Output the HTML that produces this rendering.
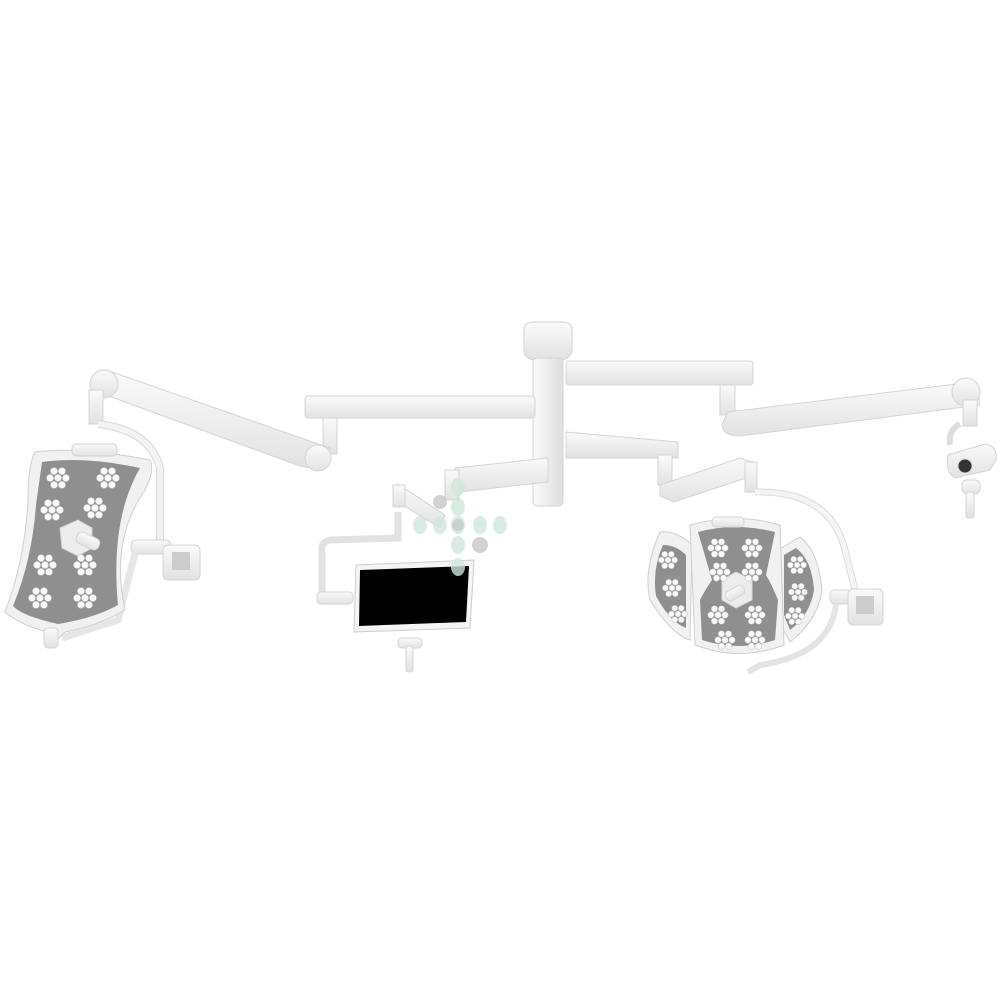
<!DOCTYPE html>
<html><head><meta charset="utf-8"><style>html,body{margin:0;padding:0;background:#fff}svg{display:block}</style></head>
<body>
<svg id="s" width="1000" height="1000" viewBox="0 0 1000 1000" xmlns="http://www.w3.org/2000/svg">
<defs>
<linearGradient id="w" x1="0" y1="0" x2="0" y2="1"><stop offset="0" stop-color="#fafafa"/><stop offset="1" stop-color="#e2e2e2"/></linearGradient>
<linearGradient id="wv" x1="0" y1="0" x2="1" y2="0"><stop offset="0" stop-color="#fafafa"/><stop offset="1" stop-color="#dedede"/></linearGradient>
</defs>
<g fill="url(#w)" stroke="#d4d4d4" stroke-width="1">
<!-- central column -->
<path d="M524 330 Q524 322 534 322 L562 322 Q572 322 572 330 L572 352 Q568 360 560 360 L536 360 Q526 360 524 352Z"/>
<rect x="533" y="358" width="30" height="148" rx="4" fill="url(#wv)"/>
<!-- upper right arm -->
<rect x="566" y="361" width="187" height="24" rx="3"/>
<rect x="720" y="385" width="15" height="30"/>
<path d="M728 412 L965 383 L978 392 L980 405 L740 436 Q722 436 722 424Z"/>
<circle cx="966" cy="392" r="14"/>
<rect x="963" y="400" width="14" height="26"/>
<path d="M960 424 Q948 430 950 445" fill="none" stroke="#ddd" stroke-width="6"/>
<path d="M948 455 L985 444 Q998 446 996 460 L990 470 L955 478 Q945 472 948 455Z"/>
<circle cx="965" cy="466" r="7" fill="#333"/>
<rect x="962" y="480" width="18" height="14" rx="5"/>
<rect x="966" y="492" width="8" height="26" rx="3"/>
<!-- left upper arm -->
<rect x="305" y="396" width="230" height="22" rx="3"/>
<rect x="323" y="418" width="14" height="36"/>
<path d="M330 448 L322 470 L300 466 L106 395 L96 378 L112 372Z"/>
<circle cx="318" cy="458" r="13"/>
<circle cx="104" cy="384" r="14"/>
<rect x="89" y="390" width="14" height="34"/>
<path d="M98 424 Q150 430 160 468 L160 545" fill="none" stroke="#d8d8d8" stroke-width="8"/>
<path d="M98 424 Q150 430 160 468 L160 545" fill="none" stroke="#f3f3f3" stroke-width="6"/>
<rect x="131" y="540" width="40" height="14" rx="6"/>
<rect x="163" y="545" width="37" height="35" rx="5"/>
<rect x="172" y="552" width="18" height="18" fill="#ccc" stroke="none"/>
<path d="M135 553 L118 620 L62 638" fill="none" stroke="#e6e6e6" stroke-width="7"/>
<!-- left lamp -->
<path d="M35 452 Q80 446 150 460 Q155 470 145 490 Q110 540 125 610 Q100 625 65 632 L55 642 L48 632 Q20 625 5 612 Q25 560 28 500 Q28 465 35 452Z" fill="#f1f1f1" stroke="#cfcfcf"/>
<path d="M42 462 Q85 456 140 468 Q110 520 118 605 Q95 618 58 624 Q22 616 13 606 Q32 560 36 505Z" fill="#8f8f8f" stroke="none"/>
<rect x="72" y="444" width="45" height="12" rx="4"/>
<polygon points="60,528 78,520 92,528 92,548 78,556 62,548" fill="#ececec"/>
<rect x="76" y="535" width="24" height="12" rx="5" transform="rotate(25 88 541)"/>
<rect x="44" y="628" width="14" height="20" rx="4"/>
<!-- lower right arm -->
<path d="M566 432 L678 442 L678 458 L566 458Z"/>
<rect x="658" y="455" width="14" height="30"/>
<path d="M660 485 L740 458 L752 462 L752 476 L674 502 L660 496Z"/>
<rect x="745" y="462" width="12" height="30"/>
<path d="M755 492 Q830 490 845 550 L855 590" fill="none" stroke="#dcdcdc" stroke-width="7"/>
<path d="M755 492 Q830 490 845 550 L855 590" fill="none" stroke="#f4f4f4" stroke-width="5"/>
<rect x="830" y="590" width="30" height="14" rx="5"/>
<rect x="848" y="589" width="35" height="36" rx="5"/>
<rect x="856" y="596" width="18" height="18" fill="#ccc" stroke="none"/>
<path d="M836 604 Q830 655 760 665 L748 672" fill="none" stroke="#e4e4e4" stroke-width="6"/>
<!-- right lamp -->
<path d="M660 532 Q676 530 692 545 L690 640 Q672 635 650 600 Q643 570 660 532Z" fill="#f1f1f1" stroke="#cfcfcf"/>
<path d="M663 545 Q676 545 686 555 L686 628 Q670 622 656 596 Q652 570 663 545Z" fill="#8f8f8f" stroke="none"/>
<path d="M800 537 Q818 550 822 590 Q818 620 790 642 L778 620 L778 550Z" fill="#f1f1f1" stroke="#cfcfcf"/>
<path d="M796 548 Q812 560 814 590 Q810 615 790 630 L784 615 L784 555Z" fill="#8f8f8f" stroke="none"/>
<path d="M690 525 Q735 512 780 525 L784 645 Q740 662 695 645Z" fill="#f1f1f1" stroke="#cfcfcf"/>
<path d="M698 532 Q735 522 775 532 L766 575 Q772 585 778 600 L775 640 Q738 652 702 640 L700 600 Q705 590 712 580Z" fill="#8f8f8f" stroke="none"/>
<rect x="712" y="517" width="32" height="10" rx="4"/>
<polygon points="722,580 736,572 752,580 752,600 736,608 722,600" fill="#ececec"/>
<rect x="725" y="588" width="20" height="10" rx="4" transform="rotate(-30 735 593)"/>
<!-- monitor arm -->
<path d="M455 468 L548 458 L548 482 L460 492Z"/>
<rect x="445" y="470" width="14" height="30"/>
<path d="M398 484 L445 515 L440 528 L395 500Z"/>
<rect x="393" y="485" width="12" height="22"/>
<path d="M398 512 L398 538 L330 540 Q320 542 322 552 L322 598" fill="none" stroke="#e2e2e2" stroke-width="7"/>
<rect x="317" y="592" width="36" height="12" rx="4"/>
<path d="M356 565 L474 560 L470 628 L354 632Z" fill="#f4f4f4" stroke="#ccc"/>
<path d="M360 570 L469 566 L466 622 L359 626Z" fill="#000" stroke="none"/>
<rect x="398" y="638" width="24" height="10" rx="4"/>
<rect x="406" y="646" width="7" height="26" rx="3"/>
</g>
<!-- watermark -->
<g fill="#cfe8dc" opacity="0.8">
<ellipse cx="458" cy="487" rx="7" ry="9"/><ellipse cx="458" cy="507" rx="7" ry="9"/>
<ellipse cx="420" cy="525" rx="7" ry="9"/><ellipse cx="440" cy="525" rx="7" ry="9"/><ellipse cx="458" cy="525" rx="7" ry="9"/><ellipse cx="480" cy="525" rx="7" ry="9"/><ellipse cx="500" cy="525" rx="7" ry="9"/>
<ellipse cx="458" cy="545" rx="7" ry="9"/><ellipse cx="458" cy="567" rx="7" ry="9"/>
</g>
<g fill="#c8c8c8" opacity="0.8"><circle cx="440" cy="502" r="7"/><circle cx="480" cy="545" r="8"/><circle cx="458" cy="525" r="6"/></g>
<g id="leds" fill="#fafafa" stroke="#bbb" stroke-width="0.5"></g>
<script>
var g=document.getElementById('leds');
function cl(x,y,r){var ps=[[0,0]];for(var i=0;i<6;i++){var a=i*Math.PI/3;ps.push([Math.cos(a)*r*2.2,Math.sin(a)*r*2.2]);}
ps.forEach(function(p){var c=document.createElementNS('http://www.w3.org/2000/svg','circle');c.setAttribute('cx',x+p[0]);c.setAttribute('cy',y+p[1]);c.setAttribute('r',r);g.appendChild(c);});}
[[58,478],[108,478],[52,510],[95,508],[45,565],[85,565],[40,598],[85,598]].forEach(function(p){cl(p[0],p[1],3.6)});
[[718,548],[752,548],[720,572],[752,572],[718,615],[755,615],[725,640],[755,640]].forEach(function(p){cl(p[0],p[1],3.2)});
[[668,560],[672,588],[678,614],[797,565],[798,592],[795,616]].forEach(function(p){cl(p[0],p[1],3)});
</script>
</svg>
</body></html>
